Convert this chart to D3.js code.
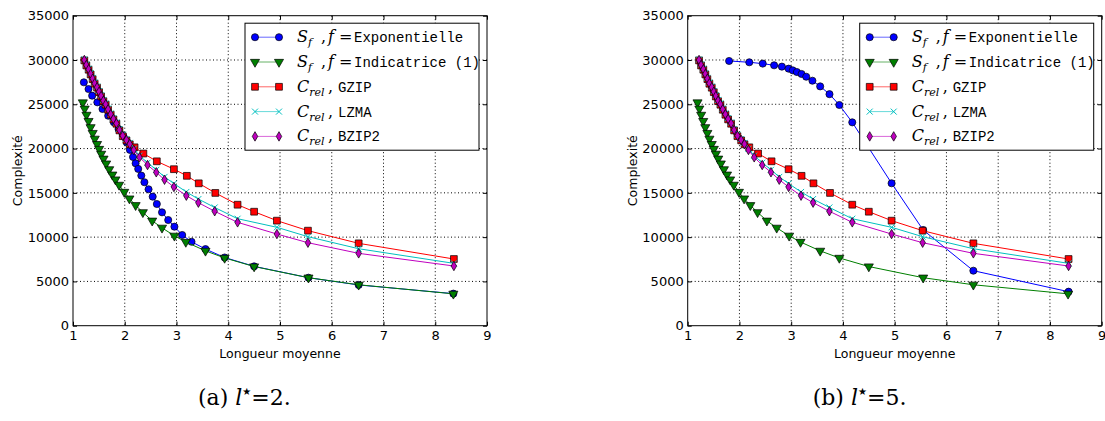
<!DOCTYPE html>
<html>
<head>
<meta charset="utf-8">
<script src="https://cdn.jsdelivr.net/npm/d3@7"></script>
<style>
  body { margin: 0; background: #fff; }
  svg { display: block; }
  .tick text { font-family: "DejaVu Sans", sans-serif; font-size: 13px; fill: #000; }
</style>
</head>
<body>
<svg width="1105" height="421"></svg>
<script>
// --- data ---
// x = longueur moyenne, y = complexite
var xExpA = [1.21,1.30,1.37,1.47,1.57,1.68,1.79,1.88,1.97,2.04,2.10,2.16,2.21,2.26,2.32,2.38,2.46,2.54,2.62,2.72,2.84,2.96,3.11,3.29,3.56,3.93,4.50,5.55,6.52,8.35];
var yExpA = [27480,26720,25970,25220,24470,23710,22960,22200,21450,20680,19850,19050,18330,17700,16950,16200,15400,14570,13740,12800,11930,11180,10240,9480,8650,7700,6700,5420,4600,3620];

var xExpB = [1.80,2.19,2.45,2.67,2.82,2.95,3.03,3.11,3.20,3.29,3.41,3.56,3.74,3.93,4.18,4.94,5.55,6.52,8.36];
var yExpB = [29890,29740,29590,29400,29250,29020,28830,28640,28420,28110,27660,27020,26140,24920,22960,16080,10800,6210,3840];

var xInd = [1.19,1.225,1.26,1.30,1.34,1.38,1.42,1.465,1.505,1.545,1.59,1.64,1.70,1.76,1.82,1.89,1.99,2.09,2.21,2.35,2.53,2.72,2.96,3.18,3.56,3.93,4.50,5.55,6.52,8.35];
var yInd = [25200,24500,23800,23100,22400,21750,21100,20500,19950,19400,18850,18300,17650,17050,16500,15900,15100,14350,13600,12800,11850,11050,10150,9450,8450,7650,6680,5420,4620,3600];

var xGzip = [1.219,1.258,1.302,1.341,1.380,1.419,1.465,1.504,1.543,1.587,1.632,1.678,1.729,1.781,1.839,1.897,1.961,2.033,2.097,2.19,2.36,2.62,2.95,3.20,3.43,3.75,4.18,4.50,4.94,5.54,6.52,8.36];
var yGzip = [29950,29380,28900,28370,27840,27320,26870,26370,25880,25350,24950,24380,23820,23290,22800,22050,21400,20920,20480,20140,19440,18560,17670,16920,16075,14990,13660,12870,11860,10730,9300,7530];

var xRel = [1.219,1.258,1.302,1.341,1.380,1.419,1.465,1.504,1.543,1.587,1.632,1.678,1.729,1.781,1.839,1.897,1.961,2.033,2.097,2.174,2.285,2.440,2.609,2.769,2.950,3.190,3.423,3.738,4.18,4.94,5.54,6.52,8.36];
var yLzma = [30050,29500,29020,28500,27980,27450,27000,26500,26020,25490,25090,24520,23960,23440,22950,22200,21560,21080,20640,19980,19200,18400,17600,16800,16050,15100,14300,13350,12080,11110,10050,8690,7040];
var yBzip2 = [30000,29430,28950,28420,27890,27370,26920,26420,25930,25400,25000,24430,23870,23340,22850,22100,21450,20970,20510,19840,19010,18140,17320,16480,15660,14680,13890,12920,11670,10350,9370,8170,6740];

var xTicks = [1,2,3,4,5,6,7,8,9];
var yTicks = [0,5000,10000,15000,20000,25000,30000,35000];
var captions = ["a","b"];
var lstar = ["2","5"];

var svg = d3.select("svg");
var panelW = 414, panelH = 310;
var x = d3.scaleLinear().domain([1,9]).range([0,panelW]);
var y = d3.scaleLinear().domain([0,35000]).range([panelH,0]);

function mk(xs, ys){ return xs.map(function(v,i){ return [v, ys[i]]; }); }

// marker styles (matplotlib classic)
function marker(g, kind, cx, cy, color){
  if (kind == "x") {
    var s = 3;
    g.append("path")
      .attr("d", "M"+(cx-s)+","+(cy-s)+"L"+(cx+s)+","+(cy+s)+"M"+(cx-s)+","+(cy+s)+"L"+(cx+s)+","+(cy-s))
      .attr("stroke", color).attr("stroke-width", 1).attr("fill", "none");
    return;
  }
  var sym, size, rot = 0;
  if (kind == "o") { sym = d3.symbolCircle; size = 40; }
  if (kind == "v") { sym = d3.symbolTriangle; size = 36; rot = 180; }
  if (kind == "s") { sym = d3.symbolSquare; size = 46; }
  if (kind == "d") { sym = d3.symbolDiamond; size = 26; }
  g.append("path")
    .attr("d", d3.symbol().type(sym).size(size)())
    .attr("transform", "translate("+cx+","+cy+") rotate("+rot+")")
    .attr("fill", color).attr("stroke", "#000").attr("stroke-width", 0.7);
}

function panel(idx, ox, oy, expX, expY){
  var g = svg.append("g").attr("transform", "translate("+ox+","+oy+")");

  // grid
  g.append("g").selectAll("line").data(xTicks.slice(1,-1)).enter().append("line")
    .attr("x1", function(d){ return x(d); }).attr("x2", function(d){ return x(d); })
    .attr("y1", 0).attr("y2", panelH)
    .attr("stroke", "#000").attr("stroke-width", 1).attr("stroke-dasharray", "1,2.5");
  g.append("g").selectAll("line").data(yTicks.slice(1,-1)).enter().append("line")
    .attr("y1", function(d){ return y(d); }).attr("y2", function(d){ return y(d); })
    .attr("x1", 0).attr("x2", panelW)
    .attr("stroke", "#000").attr("stroke-width", 1).attr("stroke-dasharray", "1,2.5");

  var series = [
    {d: mk(expX, expY), c: "#0000ff", m: "o"},
    {d: mk(xInd, yInd), c: "#007f00", m: "v"},
    {d: mk(xGzip, yGzip), c: "#ff0000", m: "s"},
    {d: mk(xRel, yLzma), c: "#00bfbf", m: "x"},
    {d: mk(xRel, yBzip2), c: "#bf00bf", m: "d"}
  ];
  var line = d3.line().x(function(d){ return x(d[0]); }).y(function(d){ return y(d[1]); });
  series.forEach(function(s){
    var sg = g.append("g");
    sg.append("path").attr("d", line(s.d)).attr("fill", "none")
      .attr("stroke", s.c).attr("stroke-width", 1);
    s.d.forEach(function(p){ marker(sg, s.m, x(p[0]), y(p[1]), s.c); });
  });

  // axes, ticks pointing inside
  g.append("g").attr("transform", "translate(0,"+panelH+")")
    .call(d3.axisBottom(x).tickValues(xTicks).tickSize(-4).tickPadding(5).tickFormat(d3.format("d")))
    .call(function(a){ a.select(".domain").remove(); });
  g.append("g")
    .call(d3.axisTop(x).tickValues(xTicks).tickSize(-4).tickFormat(""))
    .call(function(a){ a.select(".domain").remove(); });
  g.append("g")
    .call(d3.axisLeft(y).tickValues(yTicks).tickSize(-4).tickPadding(4).tickFormat(d3.format("d")))
    .call(function(a){ a.select(".domain").remove(); });
  g.append("g").attr("transform", "translate("+panelW+",0)")
    .call(d3.axisRight(y).tickValues(yTicks).tickSize(-4).tickFormat(""))
    .call(function(a){ a.select(".domain").remove(); });
  g.selectAll(".tick line").attr("stroke", "#000");

  g.append("rect").attr("width", panelW).attr("height", panelH)
    .attr("fill", "none").attr("stroke", "#000").attr("stroke-width", 1);

  // axis labels
  g.append("text").attr("x", panelW/2).attr("y", panelH+32)
    .attr("text-anchor", "middle").attr("font-family", "DejaVu Sans").attr("font-size", 12.5)
    .text("Longueur moyenne");
  g.append("text").attr("transform", "translate(-51,"+(panelH/2)+") rotate(-90)")
    .attr("text-anchor", "middle").attr("font-family", "DejaVu Sans").attr("font-size", 12.5)
    .text("Complexité");

  // legend
  var lg = g.append("g").attr("transform", "translate(172,7.5)");
  lg.append("rect").attr("width", 234).attr("height", 127)
    .attr("fill", "#fff").attr("stroke", "#000").attr("stroke-width", 1);
  var names = ["Exponentielle", "Indicatrice (1)", "GZIP", "LZMA", "BZIP2"];
  series.forEach(function(s, i){
    var ry = 14 + i*24.8;
    lg.append("line").attr("x1", 10).attr("x2", 34).attr("y1", ry).attr("y2", ry)
      .attr("stroke", s.c).attr("stroke-width", 1).attr("stroke-opacity", 0.6);
    marker(lg, s.m, 10, ry, s.c);
    marker(lg, s.m, 34, ry, s.c);
    var t = lg.append("text").attr("x", 52).attr("y", ry+5)
      .attr("font-family", "DejaVu Serif").attr("font-size", 16);
    if (i < 2) {
      t.append("tspan").attr("font-style", "italic").text("S");
      t.append("tspan").attr("font-style", "italic").attr("font-size", 11).attr("dy", 4).text("f");
      t.append("tspan").attr("x", 76).attr("dy", -4).text(",");
      t.append("tspan").attr("x", 83).attr("font-style", "italic").text("f");
      t.append("tspan").attr("x", 94).text("=");
      t.append("tspan").attr("x", 109).attr("font-family", "Liberation Mono").attr("font-size", 14).text(names[i]);
    } else {
      t.append("tspan").attr("font-style", "italic").text("C");
      t.append("tspan").attr("font-style", "italic").attr("font-size", 11).attr("dy", 4).text("rel");
      t.append("tspan").attr("x", 83).attr("dy", -4).text(",");
      t.append("tspan").attr("x", 93).attr("font-family", "Liberation Mono").attr("font-size", 14).text(names[i]);
    }
  });

  // sub caption
  var c = svg.append("text").attr("x", ox+125).attr("y", 405)
    .attr("font-family", "DejaVu Serif").attr("font-size", 22);
  c.append("tspan").text("("+captions[idx]+") ");
  c.append("tspan").attr("font-style", "italic").text("l");
  c.append("tspan").attr("font-family", "DejaVu Sans").attr("font-size", 10).attr("dy", -10).text("\u2605");
  c.append("tspan").attr("dy", 10).text("=" + lstar[idx] + ".");
}

panel(0, 73, 15.7, xExpA, yExpA);
panel(1, 687.7, 15.7, xExpB, yExpB);
</script>
</body>
</html>
